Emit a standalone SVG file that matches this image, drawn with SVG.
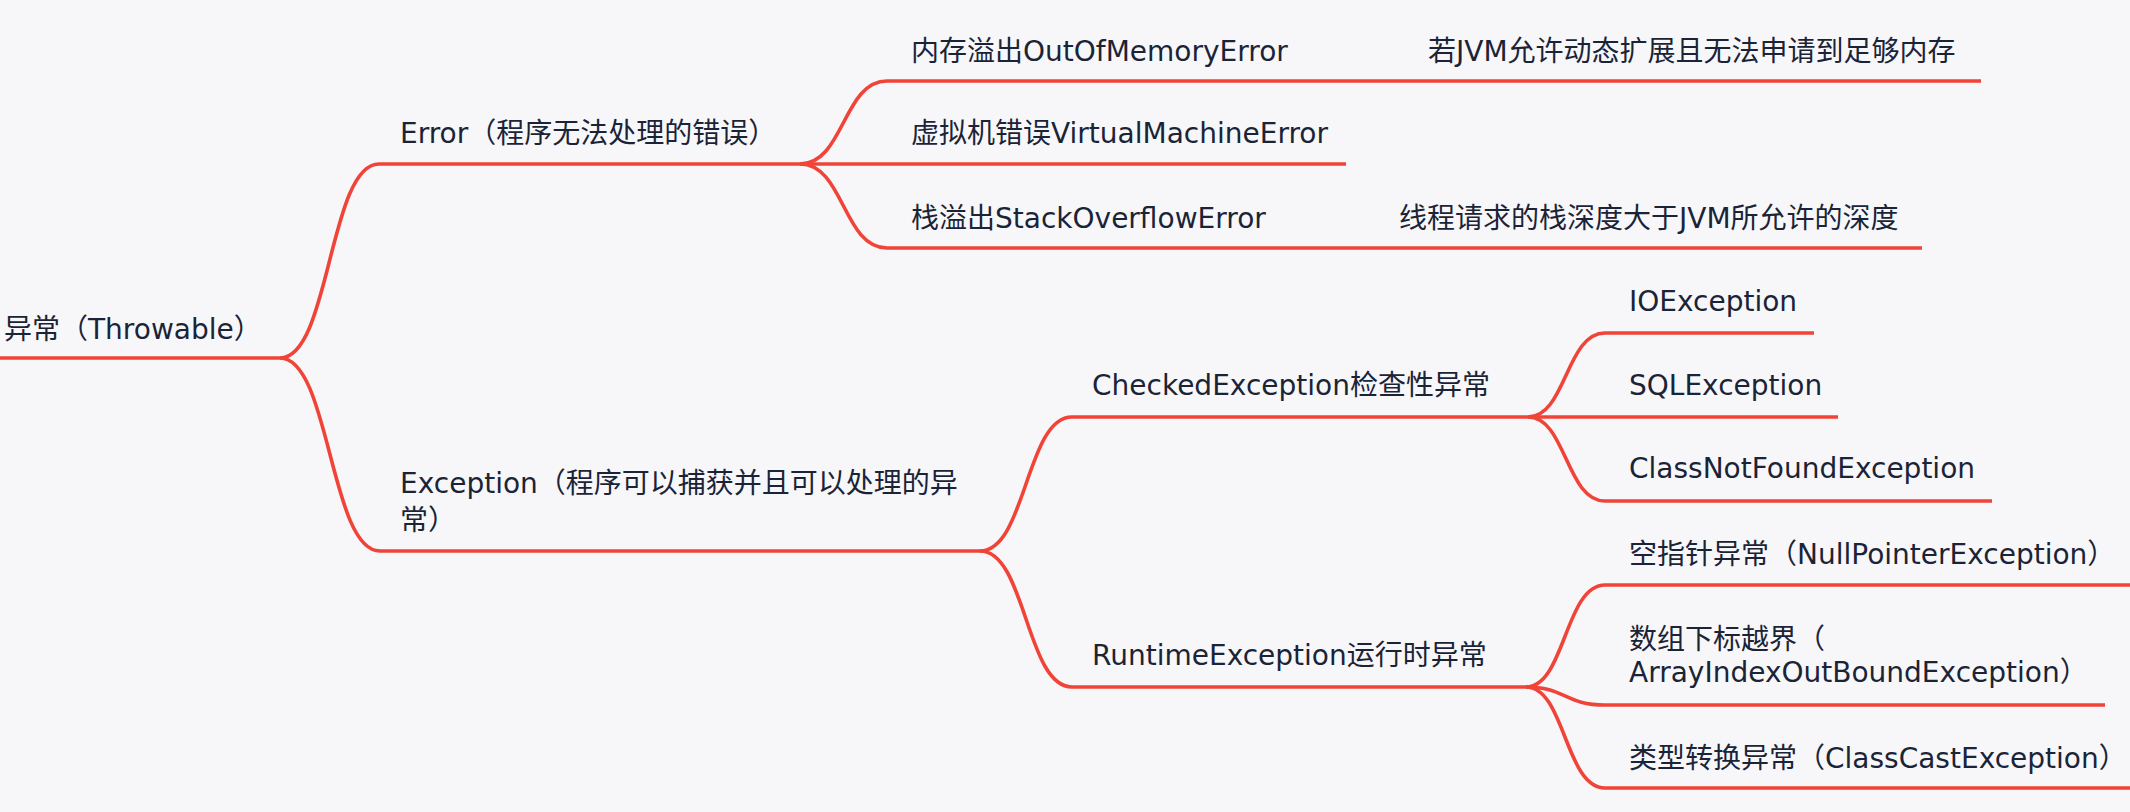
<svg xmlns="http://www.w3.org/2000/svg" width="2130" height="812" viewBox="0 0 2130 812">
<style>
.t{font-family:"DejaVu Sans","Noto Sans CJK SC",sans-serif;font-size:28px;fill:#1b2436}
.c{fill:none;stroke:#F04438;stroke-width:3.6;stroke-linecap:butt;stroke-linejoin:round}
</style>
<rect width="2130" height="812" fill="#F7F7FA"/>
<g id="connectors">
<path class="c" d="M0,358 H280"/>
<path class="c" d="M280,358 C330,358 329,164 379,164 H800"/>
<path class="c" d="M280,358 C330,358 330,551 380,551 H980"/>
<path class="c" d="M800,164 C844,164 843,81 887,81 H1981"/>
<path class="c" d="M800,164 H1346"/>
<path class="c" d="M800,164 C844,164 843,248 887,248 H1922"/>
<path class="c" d="M980,551 C1026,551 1026,417 1072,417 H1528"/>
<path class="c" d="M980,551 C1026,551 1026,687 1072,687 H1526"/>
<path class="c" d="M1528,417 C1566,417 1566,333 1605,333 H1814"/>
<path class="c" d="M1528,417 H1838"/>
<path class="c" d="M1528,417 C1566,417 1566,501 1605,501 H1992"/>
<path class="c" d="M1526,687 C1565,687 1565,585 1605,585 H2130"/>
<path class="c" d="M1526,687 C1565,687 1565,705 1605,705 H2105"/>
<path class="c" d="M1526,687 C1565,687 1565,788 1605,788 H2130"/>
</g>
<g id="root"><text class="t" x="4" y="339">异常（Throwable）</text></g>
<g id="error"><text class="t" x="400" y="143">Error（程序无法处理的错误）</text></g>
<g id="exception"><text class="t" x="400" y="493">Exception（程序可以捕获并且可以处理的异</text><text class="t" x="400" y="530">常）</text></g>
<g id="oom"><text class="t" x="911" y="61">内存溢出OutOfMemoryError</text></g>
<g id="oom-desc"><text class="t" x="1428" y="61">若JVM允许动态扩展且无法申请到足够内存</text></g>
<g id="vme"><text class="t" x="911" y="143">虚拟机错误VirtualMachineError</text></g>
<g id="soe"><text class="t" x="911" y="228">栈溢出StackOverflowError</text></g>
<g id="soe-desc"><text class="t" x="1399" y="228">线程请求的栈深度大于JVM所允许的深度</text></g>
<g id="checked"><text class="t" x="1092" y="395">CheckedException检查性异常</text></g>
<g id="runtime"><text class="t" x="1092" y="665">RuntimeException运行时异常</text></g>
<g id="io"><text class="t" x="1629" y="311">IOException</text></g>
<g id="sql"><text class="t" x="1629" y="395">SQLException</text></g>
<g id="cnf"><text class="t" x="1629" y="478">ClassNotFoundException</text></g>
<g id="npe"><text class="t" x="1629" y="564">空指针异常（NullPointerException）</text></g>
<g id="aioobe"><text class="t" x="1629" y="649">数组下标越界（</text><text class="t" x="1629" y="682">ArrayIndexOutBoundException）</text></g>
<g id="cce"><text class="t" x="1629" y="768">类型转换异常（ClassCastException）</text></g>
</svg>
